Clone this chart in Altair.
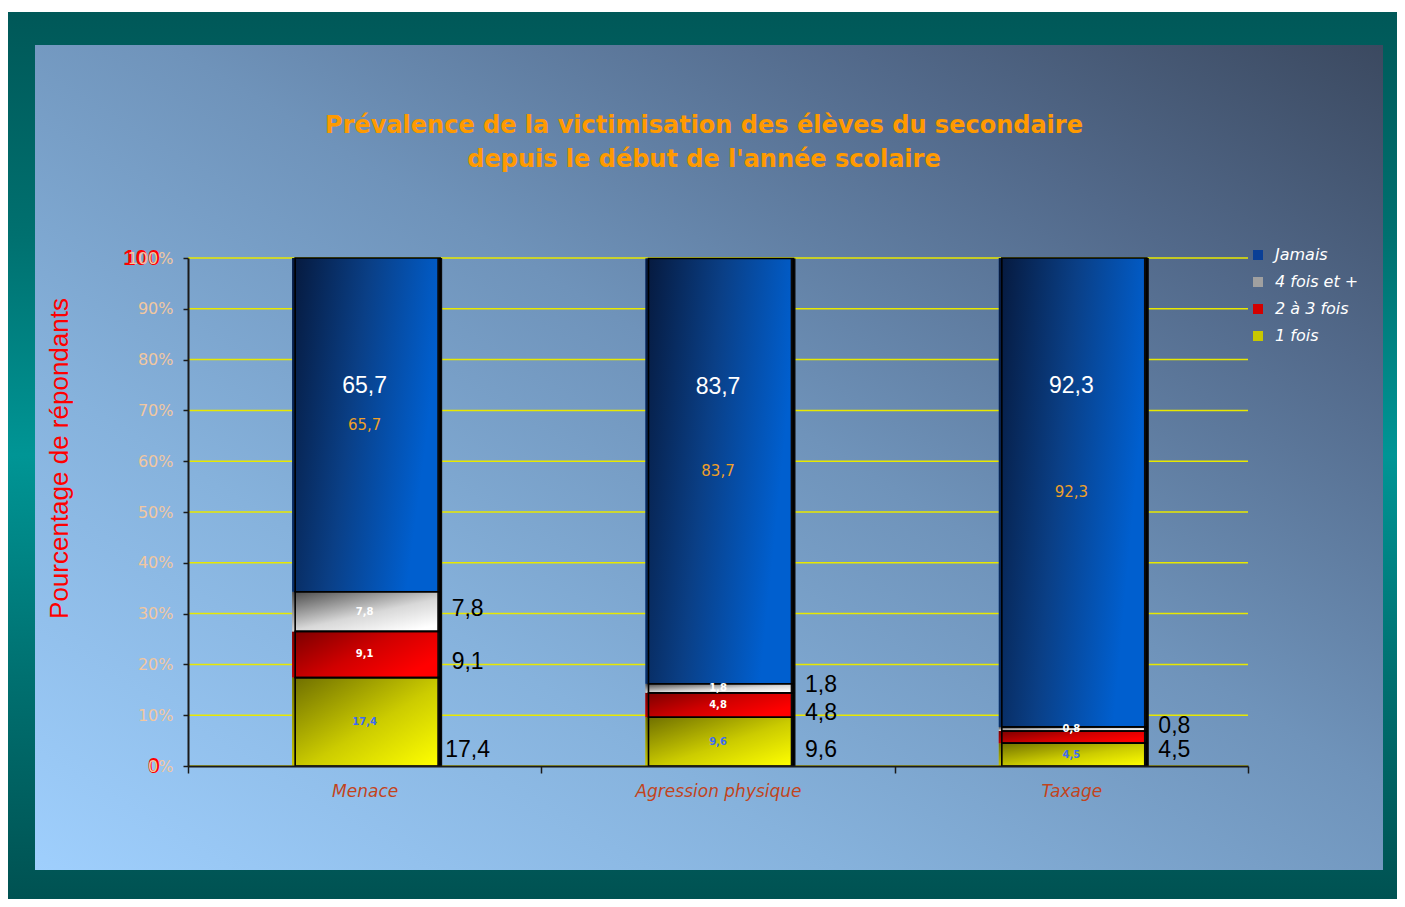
import altair as alt
import pandas as pd

# ---------------- data ----------------
categories = ["Menace", "Agression physique", "Taxage"]
series_bottom_up = ["1 fois", "2 à 3 fois", "4 fois et +", "Jamais"]
legend_order = ["Jamais", "4 fois et +", "2 à 3 fois", "1 fois"]

une_fois = [17.4, 9.6, 4.5]
deux_a_trois = [9.1, 4.8, 2.4]
quatre_et_plus = [7.8, 1.8, 0.8]
jamais = [65.7, 83.7, 92.3]

shown_une_fois = [True, True, True]
shown_deux_a_trois = [True, True, False]
shown_quatre_et_plus = [True, True, True]
shown_jamais = [True, True, True]

y_ticks = [0, 10, 20, 30, 40, 50, 60, 70, 80, 90, 100]
red_marks_values = [100, 0]
red_marks_text = ["100", "0"]

title_lines = ["Prévalence de la victimisation des élèves du secondaire",
               "depuis le début de l'année scolaire"]
y_title = "Pourcentage de répondants"

# ---------------- table ----------------
values_by_series = {"1 fois": une_fois, "2 à 3 fois": deux_a_trois,
                    "4 fois et +": quatre_et_plus, "Jamais": jamais}
shown_by_series = {"1 fois": shown_une_fois, "2 à 3 fois": shown_deux_a_trois,
                   "4 fois et +": shown_quatre_et_plus, "Jamais": shown_jamais}
rows = []
for i, cat in enumerate(categories):
    base = 0.0
    for s in series_bottom_up:
        v = values_by_series[s][i]
        rows.append(dict(cat=cat, series=s, v=v, y0=base, y1=base + v,
                         mid=base + v / 2,
                         label=f"{v:.1f}".replace(".", ","),
                         shown=shown_by_series[s][i]))
        base += v
df = pd.DataFrame(rows)
df_lab = df[df["shown"]]
ticks_df = pd.DataFrame({"t": y_ticks})
red_df = pd.DataFrame({"v": red_marks_values, "t": red_marks_text})
one = pd.DataFrame({"a": [0]})

BAR_W = 145

x_enc = alt.X("cat:N", sort=categories,
              scale=alt.Scale(paddingInner=0, paddingOuter=0),
              axis=alt.Axis(title=None, labelAngle=0, labelColor="#c2441c",
                            labelFont="DejaVu Sans", labelFontStyle="italic",
                            labelFontSize=17, labelPadding=10,
                            domainColor="#1a1a1a", domainWidth=2,
                            tickColor="#1a1a1a", tickSize=7, tickWidth=1.5,
                            tickBand="extent", grid=False, zindex=1))

y_scale = alt.Scale(domain=[0, 100], nice=False)
y_axis = alt.Axis(values=y_ticks, labelExpr="datum.value + '%'",
                  labelColor="#f2c7a0", labelFont="DejaVu Sans",
                  labelFontSize=16, labelPadding=10,
                  tickColor="#1a1a1a", tickSize=5, tickWidth=1.5,
                  domainColor="#1a1a1a", domainWidth=2, grid=False,
                  title=y_title, titleColor="#ff0000",
                  titleFont="Liberation Sans", titleFontSize=26,
                  titleFontWeight="normal", titleAngle=270,
                  titleX=-121, titleY=200, titleAlign="center",
                  titleBaseline="alphabetic", zindex=1)


def Y(field):
    return alt.Y(field, type="quantitative", scale=y_scale, axis=y_axis)


# ---------------- decorations ----------------
frame = alt.Chart(one).mark_rect(
    fill=alt.Gradient(gradient="linear", x1=0, y1=0, x2=0, y2=1,
                      stops=[alt.GradientStop(color="#005858", offset=0),
                             alt.GradientStop(color="#00706f", offset=0.25),
                             alt.GradientStop(color="#009595", offset=0.5),
                             alt.GradientStop(color="#007070", offset=0.75),
                             alt.GradientStop(color="#005252", offset=1)])
).encode(x=alt.value(-180), x2=alt.value(1209), y=alt.value(-246), y2=alt.value(641))

panel = alt.Chart(one).mark_rect(
    fill=alt.Gradient(gradient="linear", x1=0, y1=1, x2=1, y2=0,
                      stops=[alt.GradientStop(color="#9fcffd", offset=0),
                             alt.GradientStop(color="#86b2dc", offset=0.3),
                             alt.GradientStop(color="#6f93ba", offset=0.55),
                             alt.GradientStop(color="#52698a", offset=0.8),
                             alt.GradientStop(color="#3b4960", offset=1)])
).encode(x=alt.value(-153), x2=alt.value(1195), y=alt.value(-213), y2=alt.value(612))

title_text = alt.Chart(one).mark_text(
    text=title_lines, lineHeight=34, font="DejaVu Sans", fontSize=24,
    fontWeight="bold", color="#ff9a00", align="center", baseline="top"
).encode(x=alt.value(516), y=alt.value(-144))

grid = alt.Chart(ticks_df).mark_rule(color="#e8e800", strokeWidth=1.5).encode(y=Y("t"))

shadow = alt.Chart(df[df["series"] == "Jamais"]).mark_bar(
    width=BAR_W, color="#0a0a0a", xOffset=5
).encode(x=x_enc, y=Y("y1"), y2=alt.datum(0))

base_bars = alt.Chart(df).mark_bar(width=BAR_W).encode(
    x=x_enc, y=Y("y0"), y2="y1",
    color=alt.Color("series:N", sort=legend_order,
                    scale=alt.Scale(domain=legend_order,
                                    range=["#0a3f96", "#a0a0a0", "#d40000", "#c8c800"]),
                    legend=alt.Legend(orient="none", legendX=1062, legendY=-11,
                                      title=None, symbolType="square",
                                      symbolSize=100, symbolStrokeWidth=0,
                                      labelColor="white", labelFont="DejaVu Sans",
                                      labelFontStyle="italic", labelFontSize=16,
                                      labelOffset=9, rowPadding=11, padding=0)))

gradients = {
    "Jamais": alt.Gradient(gradient="linear", x1=0, y1=0, x2=1, y2=0.3,
                           stops=[alt.GradientStop(color="#06193d", offset=0),
                                  alt.GradientStop(color="#0a3f86", offset=0.5),
                                  alt.GradientStop(color="#005fcf", offset=1)]),
    "4 fois et +": alt.Gradient(gradient="linear", x1=0, y1=0, x2=0.8, y2=1,
                                stops=[alt.GradientStop(color="#4a4a4a", offset=0),
                                       alt.GradientStop(color="#d8d8d8", offset=0.6),
                                       alt.GradientStop(color="#ffffff", offset=1)]),
    "2 à 3 fois": alt.Gradient(gradient="linear", x1=0, y1=0, x2=1, y2=0.6,
                               stops=[alt.GradientStop(color="#7a0000", offset=0),
                                      alt.GradientStop(color="#d00000", offset=0.55),
                                      alt.GradientStop(color="#ff0000", offset=1)]),
    "1 fois": alt.Gradient(gradient="linear", x1=0, y1=0, x2=1, y2=1,
                           stops=[alt.GradientStop(color="#6e6e00", offset=0),
                                  alt.GradientStop(color="#cccc00", offset=0.55),
                                  alt.GradientStop(color="#ffff00", offset=1)]),
}
grad_layers = [
    alt.Chart(df[df["series"] == s]).mark_bar(width=BAR_W, fill=gradients[s]).encode(
        x=x_enc, y=Y("y0"), y2="y1")
    for s in series_bottom_up
]

outline = alt.Chart(df).mark_bar(
    width=BAR_W, fill="#000000", fillOpacity=0, stroke="#000000",
    strokeWidth=1.6, xOffset=3
).encode(x=x_enc, y=Y("y0"), y2="y1")

# ---------------- labels ----------------
inner_style = {
    "1 fois": dict(color="#3d6cf2", fontSize=10, fontWeight="bold"),
    "2 à 3 fois": dict(color="#ffffff", fontSize=10, fontWeight="bold"),
    "4 fois et +": dict(color="#ffffff", fontSize=10, fontWeight="bold"),
    "Jamais": dict(color="#f0a028", fontSize=15, fontWeight="normal"),
}
inner_layers = [
    alt.Chart(df_lab[df_lab["series"] == s]).mark_text(
        font="DejaVu Sans", baseline="middle", **inner_style[s]
    ).encode(x=x_enc, y=Y("mid"), text="label:N")
    for s in series_bottom_up
]

outside_low = alt.Chart(df_lab[df_lab["series"] == "1 fois"]).mark_text(
    font="Liberation Sans", fontSize=23, color="#000000", align="center",
    baseline="middle", dx=103, dy=-16
).encode(x=x_enc, y=Y("y0"), text="label:N")

outside_23 = alt.Chart(df_lab[df_lab["series"] == "2 à 3 fois"]).mark_text(
    font="Liberation Sans", fontSize=23, color="#000000", align="center",
    baseline="middle", dx=103, dy=8
).encode(x=x_enc, y=Y("mid"), text="label:N")

outside_4 = alt.Chart(df_lab[df_lab["series"] == "4 fois et +"]).mark_text(
    font="Liberation Sans", fontSize=23, color="#000000", align="center",
    baseline="middle", dx=103, dy=-3
).encode(x=x_enc, y=Y("mid"), text="label:N")

top_white = alt.Chart(df_lab[df_lab["series"] == "Jamais"]).mark_text(
    font="Liberation Sans", fontSize=23, color="#ffffff", align="center",
    baseline="middle", dy=128
).encode(x=x_enc, y=Y("y1"), text="label:N")

red_marks = alt.Chart(red_df).mark_text(
    font="Liberation Sans", fontSize=22, fontWeight="bold", color="#ff0000",
    align="right", baseline="middle"
).encode(x=alt.value(-28), y=Y("v"), text="t:N")

chart = alt.layer(
    frame, panel, title_text, grid, shadow, base_bars, *grad_layers, outline,
    *inner_layers, outside_low, outside_23, outside_4, top_white, red_marks
).properties(
    width=1060, height=508,
    autosize=alt.AutoSizeParams(type="none"),
    padding={"left": 180, "top": 250, "right": 149, "bottom": 133},
    background="white",
).configure_view(strokeWidth=0)

chart.save("out.html", embed_options={"renderer": "svg", "actions": False})
